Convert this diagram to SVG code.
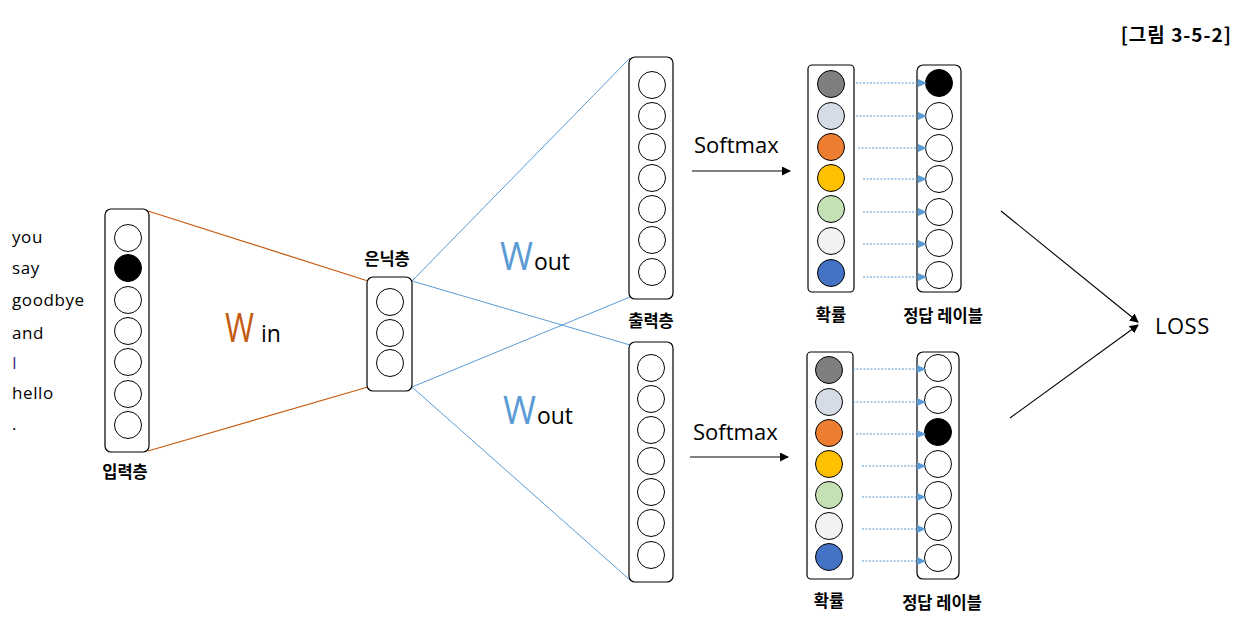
<svg xmlns="http://www.w3.org/2000/svg" width="1257" height="623" viewBox="0 0 1257 623">
  <defs>
    <style>
      .box { fill: #fff; stroke: #000; stroke-width: 1.2; }
      .n { fill: #fff; stroke: #000; stroke-width: 1; }
      .t { font-family: "Open Sans", "Noto Sans CJK KR", sans-serif; fill: #000; }
      .word { font-size: 17px; letter-spacing: 0.6px; }
      .k { font-family: "Noto Sans CJK KR", sans-serif; font-weight: bold; font-size: 16.5px; text-anchor: middle; fill: #000; }
      .w-in { stroke: #C55A11; stroke-width: 1.2; fill: none; }
      .w-out { stroke: #5B9BD5; stroke-width: 1; fill: none; }
      .cmp { stroke: #5B9BD5; stroke-width: 1.2; stroke-dasharray: 2 1.5; fill: none; marker-end: url(#blueHead); }
      .flow { stroke: #000; stroke-width: 1.1; fill: none; marker-end: url(#blackHead); }
    </style>
    <marker id="blueHead" markerWidth="9" markerHeight="9" refX="8" refY="4.5" orient="auto" markerUnits="userSpaceOnUse">
      <path d="M0,0.5 L9,4.5 L0,8.5 Z" fill="#5B9BD5"/>
    </marker>
    <marker id="blackHead" markerWidth="9" markerHeight="9" refX="8" refY="4.5" orient="auto" markerUnits="userSpaceOnUse">
      <path d="M0,0 L9,4.5 L0,9 Z" fill="#000"/>
    </marker>
  </defs>
  <rect width="1257" height="623" fill="#fff"/>

  <!-- caption -->
  <text x="1232" y="42" font-size="19" font-weight="bold" text-anchor="end" letter-spacing="1" style="font-family:'Noto Sans CJK KR',sans-serif">[그림 3-5-2]</text>

  <!-- weight connections between layers -->
  <g id="weights">
    <line class="w-in" x1="148" y1="211" x2="368" y2="281"/>
    <line class="w-in" x1="148" y1="451" x2="368" y2="387"/>
    <line class="w-out" x1="412" y1="281" x2="630" y2="58"/>
    <line class="w-out" x1="412" y1="281" x2="630" y2="345"/>
    <line class="w-out" x1="412" y1="387" x2="630" y2="297"/>
    <line class="w-out" x1="412" y1="387" x2="630" y2="580"/>
  </g>

  <!-- vocabulary words -->
  <g id="words">
    <text class="t word" x="12" y="243">you</text>
    <text class="t word" x="12" y="274">say</text>
    <text class="t word" x="12" y="306">goodbye</text>
    <text class="t word" x="12" y="339">and</text>
    <text class="t word" x="12" y="369" style="fill:#3B2C85">I</text>
    <text class="t word" x="12" y="399">hello</text>
    <text class="t word" x="12" y="430">.</text>
  </g>

  <!-- input layer -->
  <g id="input-layer">
    <rect class="box" x="105" y="209" width="44" height="243" rx="6"/>
    <circle class="n" cx="128" cy="238" r="13.5"/>
    <circle cx="128" cy="268" r="13.5" fill="#000" stroke="#000"/>
    <circle class="n" cx="128" cy="300" r="13.5"/>
    <circle class="n" cx="128" cy="331" r="13.5"/>
    <circle class="n" cx="128" cy="362" r="13.5"/>
    <circle class="n" cx="128" cy="394" r="13.5"/>
    <circle class="n" cx="128" cy="425" r="13.5"/>
    <text class="k" x="125" y="478">입력층</text>
  </g>

  <!-- W_in label -->
  <g id="w-in-label">
    <text class="t" x="225" y="342" font-size="40" textLength="29" lengthAdjust="spacingAndGlyphs" style="fill:#C55A11">W</text>
    <text class="t" x="261" y="342" font-size="23">in</text>
  </g>

  <!-- hidden layer -->
  <g id="hidden-layer">
    <rect class="box" x="367" y="277" width="45" height="114" rx="6"/>
    <circle class="n" cx="390" cy="302" r="13.5"/>
    <circle class="n" cx="390" cy="333" r="13.5"/>
    <circle class="n" cx="390" cy="363" r="13.5"/>
    <text class="k" x="387" y="265">은닉층</text>
  </g>

  <!-- W_out labels -->
  <g id="w-out-labels">
    <text class="t" x="500" y="270" font-size="38" textLength="33" lengthAdjust="spacingAndGlyphs" style="fill:#5B9BD5">W</text>
    <text class="t" x="534" y="270" font-size="23" textLength="36" lengthAdjust="spacingAndGlyphs">out</text>
    <text class="t" x="503" y="424" font-size="38" textLength="33" lengthAdjust="spacingAndGlyphs" style="fill:#5B9BD5">W</text>
    <text class="t" x="537" y="424" font-size="23" textLength="36" lengthAdjust="spacingAndGlyphs">out</text>
  </g>

  <!-- output layer (top) -->
  <g id="output-layer-1">
    <rect class="box" x="629" y="57" width="44" height="242" rx="6"/>
    <circle class="n" cx="652" cy="85" r="13.5"/>
    <circle class="n" cx="652" cy="116" r="13.5"/>
    <circle class="n" cx="652" cy="147" r="13.5"/>
    <circle class="n" cx="652" cy="178" r="13.5"/>
    <circle class="n" cx="652" cy="209" r="13.5"/>
    <circle class="n" cx="652" cy="240" r="13.5"/>
    <circle class="n" cx="652" cy="272" r="13.5"/>
    <text class="k" x="651" y="327">출력층</text>
  </g>

  <!-- output layer (bottom) -->
  <g id="output-layer-2">
    <rect class="box" x="629" y="342" width="44" height="240" rx="6"/>
    <circle class="n" cx="651" cy="368" r="13.5"/>
    <circle class="n" cx="651" cy="399" r="13.5"/>
    <circle class="n" cx="651" cy="430" r="13.5"/>
    <circle class="n" cx="651" cy="461" r="13.5"/>
    <circle class="n" cx="651" cy="492" r="13.5"/>
    <circle class="n" cx="651" cy="523" r="13.5"/>
    <circle class="n" cx="651" cy="555" r="13.5"/>
  </g>

  <!-- softmax captions -->
  <g id="softmax-labels">
    <text class="t" x="694" y="153" font-size="22">Softmax</text>
    <text class="t" x="693" y="440" font-size="22">Softmax</text>
  </g>

  <!-- probabilities (top) -->
  <g id="probability-1">
    <rect class="box" x="808" y="65" width="46" height="227" rx="4"/>
    <circle cx="831" cy="84" r="13.5" fill="#7F7F7F" stroke="#000"/>
    <circle cx="831" cy="116" r="13.5" fill="#D6DCE5" stroke="#000"/>
    <circle cx="831" cy="147" r="13.5" fill="#ED7D31" stroke="#000"/>
    <circle cx="831" cy="178" r="13.5" fill="#FFC000" stroke="#000"/>
    <circle cx="831" cy="209" r="13.5" fill="#C5E0B4" stroke="#000"/>
    <circle cx="831" cy="241" r="13.5" fill="#F2F2F2" stroke="#000"/>
    <circle cx="831" cy="273" r="13.5" fill="#4472C4" stroke="#000"/>
    <text class="k" x="831" y="321">확률</text>
  </g>

  <!-- answer labels (top) -->
  <g id="label-1">
    <rect class="box" x="917" y="65" width="44" height="227" rx="6"/>
    <circle cx="939" cy="83" r="13.5" fill="#000" stroke="#000"/>
    <circle class="n" cx="939" cy="116" r="13.5"/>
    <circle class="n" cx="939" cy="148" r="13.5"/>
    <circle class="n" cx="939" cy="179" r="13.5"/>
    <circle class="n" cx="939" cy="212" r="13.5"/>
    <circle class="n" cx="939" cy="243" r="13.5"/>
    <circle class="n" cx="939" cy="275" r="13.5"/>
    <text class="k" x="943" y="322">정답 레이블</text>
  </g>

  <!-- probabilities (bottom) -->
  <g id="probability-2">
    <rect class="box" x="807" y="352" width="46" height="227" rx="4"/>
    <circle cx="829" cy="370" r="13.5" fill="#7F7F7F" stroke="#000"/>
    <circle cx="829" cy="402" r="13.5" fill="#D6DCE5" stroke="#000"/>
    <circle cx="829" cy="433" r="13.5" fill="#ED7D31" stroke="#000"/>
    <circle cx="829" cy="464" r="13.5" fill="#FFC000" stroke="#000"/>
    <circle cx="829" cy="495" r="13.5" fill="#C5E0B4" stroke="#000"/>
    <circle cx="829" cy="526" r="13.5" fill="#F2F2F2" stroke="#000"/>
    <circle cx="829" cy="557" r="13.5" fill="#4472C4" stroke="#000"/>
    <text class="k" x="829" y="607">확률</text>
  </g>

  <!-- answer labels (bottom) -->
  <g id="label-2">
    <rect class="box" x="917" y="352" width="42" height="227" rx="6"/>
    <circle class="n" cx="938" cy="368" r="13.5"/>
    <circle class="n" cx="938" cy="400" r="13.5"/>
    <circle cx="938" cy="432" r="13.5" fill="#000" stroke="#000"/>
    <circle class="n" cx="938" cy="464" r="13.5"/>
    <circle class="n" cx="938" cy="495" r="13.5"/>
    <circle class="n" cx="938" cy="527" r="13.5"/>
    <circle class="n" cx="938" cy="558" r="13.5"/>
    <text class="k" x="942" y="609">정답 레이블</text>
  </g>

  <!-- loss -->
  <g id="loss">
    <text class="t" x="1155" y="334" font-size="22" letter-spacing="0.5">LOSS</text>
  </g>

  <!-- arrows: softmax, prediction-to-label comparison, loss -->
  <g id="connectors">
    <line class="flow" x1="692" y1="171" x2="790" y2="171"/>
    <line class="flow" x1="690" y1="457" x2="788" y2="457"/>
    <line class="flow" x1="1001" y1="211" x2="1138" y2="322"/>
    <line class="flow" x1="1010" y1="418" x2="1138" y2="325"/>
    <line class="cmp" x1="856" y1="83" x2="926" y2="83"/>
    <line class="cmp" x1="856" y1="116" x2="926" y2="116"/>
    <line class="cmp" x1="858" y1="148" x2="926" y2="148"/>
    <line class="cmp" x1="863" y1="179" x2="926" y2="179"/>
    <line class="cmp" x1="863" y1="212" x2="926" y2="212"/>
    <line class="cmp" x1="863" y1="244" x2="926" y2="244"/>
    <line class="cmp" x1="863" y1="277" x2="926" y2="277"/>
    <line class="cmp" x1="853" y1="369" x2="925" y2="369"/>
    <line class="cmp" x1="853" y1="402" x2="925" y2="402"/>
    <line class="cmp" x1="856" y1="434" x2="925" y2="434"/>
    <line class="cmp" x1="862" y1="466" x2="925" y2="466"/>
    <line class="cmp" x1="862" y1="497" x2="925" y2="497"/>
    <line class="cmp" x1="862" y1="529" x2="925" y2="529"/>
    <line class="cmp" x1="862" y1="561" x2="925" y2="561"/>
  </g>
</svg>
